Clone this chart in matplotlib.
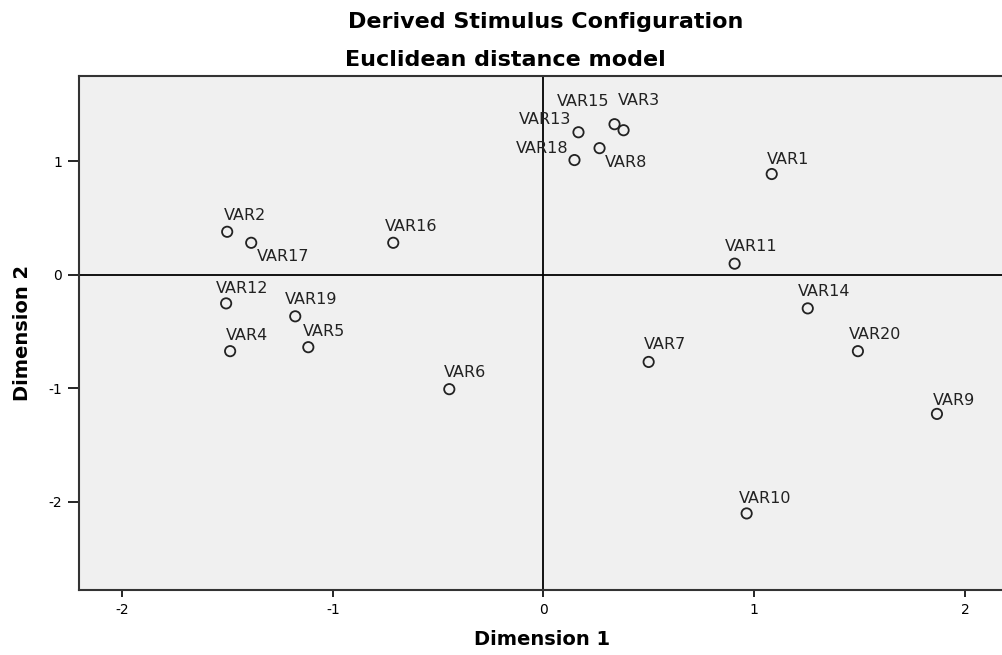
import matplotlib
matplotlib.use("Agg")
import matplotlib.pyplot as plt

plt.rcParams["axes.unicode_minus"] = False

# stimulus coordinates
names = ["VAR1", "VAR2", "VAR3", "VAR4", "VAR5", "VAR6", "VAR7", "VAR8", "VAR9", "VAR10",
         "VAR11", "VAR12", "VAR13", "VAR14", "VAR15", "VAR16", "VAR17", "VAR18", "VAR19", "VAR20"]
dim1 = [1.083, -1.501, 0.380, -1.487, -1.116, -0.447, 0.499, 0.266, 1.867, 0.964,
        0.907, -1.506, 0.166, 1.254, 0.337, -0.713, -1.387, 0.147, -1.178, 1.492]
dim2 = [0.886, 0.377, 1.272, -0.675, -0.640, -1.010, -0.770, 1.114, -1.228, -2.105,
        0.096, -0.254, 1.254, -0.298, 1.325, 0.280, 0.280, 1.009, -0.368, -0.675]

# label placement (pixels from the marker, horizontal alignment)
label_pos = {
    "VAR1": (-5, 15, "left"), "VAR2": (-3, 16, "left"), "VAR3": (-6, 30, "left"),
    "VAR4": (-4, 16, "left"), "VAR5": (-5, 16, "left"), "VAR6": (-5, 17, "left"),
    "VAR7": (-5, 17, "left"), "VAR8": (5, -14, "left"), "VAR9": (-4, 13, "left"),
    "VAR10": (-8, 15, "left"), "VAR11": (-10, 17, "left"), "VAR12": (-10, 15, "left"),
    "VAR13": (-7, 13, "right"), "VAR14": (-10, 17, "left"), "VAR15": (-5, 23, "right"),
    "VAR16": (-8, 16, "left"), "VAR17": (6, -14, "left"), "VAR18": (-6, 12, "right"),
    "VAR19": (-10, 17, "left"), "VAR20": (-9, 17, "left"),
}

fig = plt.figure(figsize=(10.03, 6.55), dpi=100)
ax = fig.add_axes([0.0788, 0.0992, 0.9232, 0.7848])
ax.set_facecolor("#f0f0f0")

ax.axhline(0, color="black", lw=1.3, zorder=1)
ax.axvline(0, color="black", lw=1.3, zorder=1)

ax.scatter(dim1, dim2, s=55, facecolors="none", edgecolors="#222222",
           linewidths=1.3, zorder=3)

for n, x, y in zip(names, dim1, dim2):
    dx, dy, ha = label_pos[n]
    ax.annotate(n, (x, y), xytext=(dx, dy), textcoords="offset pixels",
                ha=ha, va="center", fontsize=11.5, color="#222222")

ax.set_xlim(-2.204, 2.19)
ax.set_ylim(-2.78, 1.75)
ax.set_xticks([-2, -1, 0, 1, 2])
ax.set_yticks([-2, -1, 0, 1])
ax.tick_params(axis="x", direction="out", length=5, width=1.2, labelsize=10, pad=4)
ax.tick_params(axis="y", direction="out", length=8, width=1.2, labelsize=10, pad=4)

for side in ["left", "bottom", "top"]:
    ax.spines[side].set_linewidth(1.5)
    ax.spines[side].set_color("#333333")
ax.spines["right"].set_visible(False)

ax.set_xlabel("Dimension 1", fontsize=14, fontweight="bold", labelpad=10)
ax.set_ylabel("Dimension 2", fontsize=14, fontweight="bold", labelpad=12)

fig.text(0.544, 0.966, "Derived Stimulus Configuration", ha="center", va="center",
         fontsize=16, fontweight="bold")
fig.text(0.504, 0.908, "Euclidean distance model", ha="center", va="center",
         fontsize=16, fontweight="bold")

fig.savefig("out.png", dpi=100)
